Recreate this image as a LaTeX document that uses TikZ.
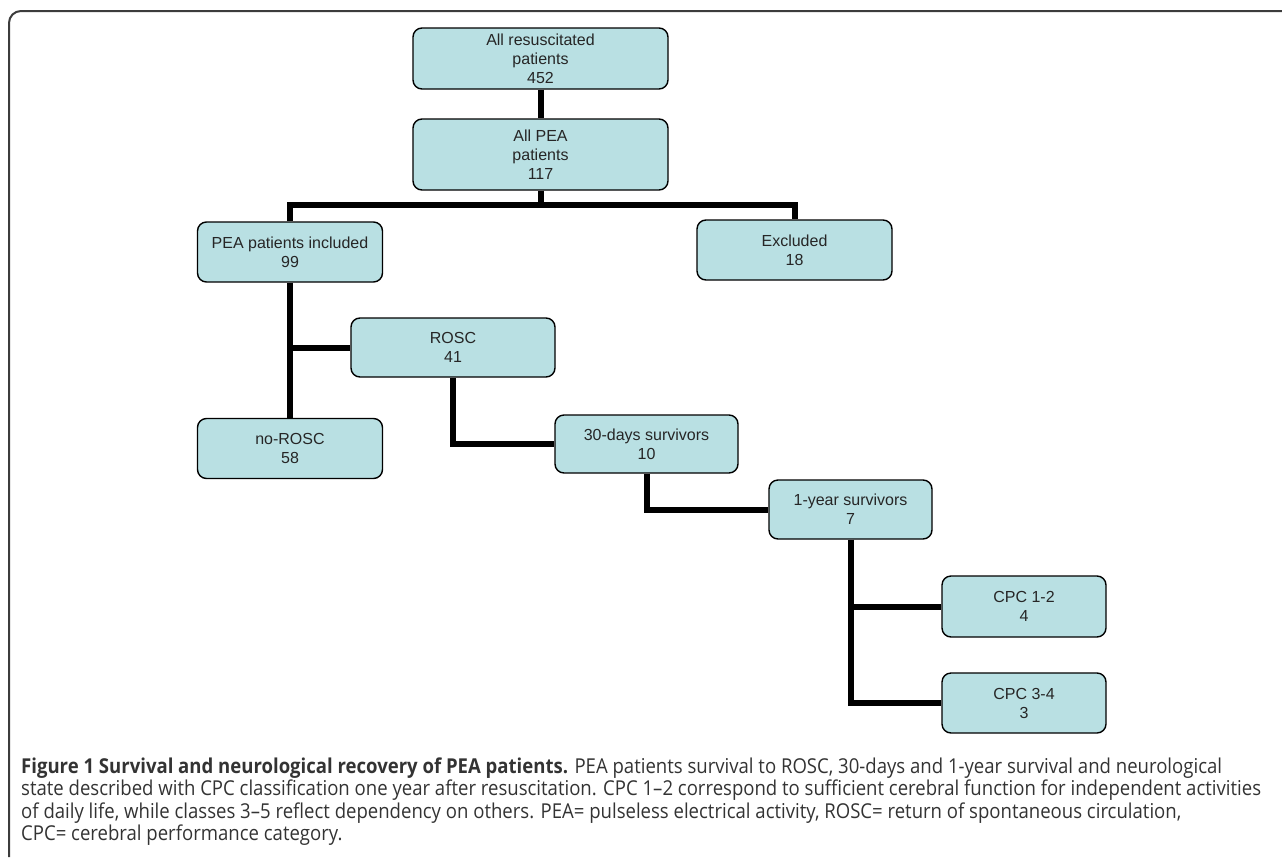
\documentclass[tikz,border=0pt]{standalone}
\usepackage{fontspec}
\setmainfont{Liberation Sans}
\newfontfamily\capfont[FakeStretch=0.905]{Open Sans}
\newfontfamily\capfontb[FakeStretch=0.905]{Open Sans Bold}
\definecolor{boxfill}{RGB}{185,224,227}
\definecolor{frameg}{RGB}{60,60,60}
\begin{document}
\begin{tikzpicture}[x=1pt,y=-1pt,
  box/.style={draw=black,line width=1.4pt,fill=boxfill,rounded corners=9pt,
    align=center,inner sep=0pt,text=black!85,
    font=\fontsize{16}{19}\selectfont},
  link/.style={line width=6pt,draw=black},
  capline/.style={anchor=base west,inner sep=0pt,text=black!80,
    font=\fontsize{20.5}{22}\selectfont\capfont}]
\useasboundingbox (0,0) rectangle (1282,857);
\draw[frameg,line width=2pt,rounded corners=12pt] (1282,11) -- (9,11) -- (9,857);

\node[box,minimum width=255pt,minimum height=61pt] (top) at (540.5,58.5) {All resuscitated\\patients\\452};
\node[box,minimum width=255pt,minimum height=71pt] (pea) at (540.5,154.5) {All PEA\\patients\\117};
\node[box,minimum width=185pt,minimum height=60pt] (inc) at (290,252) {PEA patients included\\99};
\node[box,minimum width=195pt,minimum height=60pt] (exc) at (794.5,250) {Excluded\\18};
\node[box,minimum width=204pt,minimum height=59pt] (rosc) at (453,347.5) {ROSC\\41};
\node[box,minimum width=185pt,minimum height=60pt] (norosc) at (290,448.5) {no-ROSC\\58};
\node[box,minimum width=183pt,minimum height=58pt] (d30) at (646.5,444) {30-days survivors\\10};
\node[box,minimum width=163pt,minimum height=59pt] (y1) at (850.5,509.5) {1-year survivors\\7};
\node[box,minimum width=164pt,minimum height=61pt] (cpca) at (1024,606.5) {CPC 1-2\\4};
\node[box,minimum width=164pt,minimum height=60pt] (cpcb) at (1024,703) {CPC 3-4\\3};

\coordinate (bus) at (540.5,205);
\draw[link] (top.south) -- (pea.north);
\draw[link] (pea.south) -- (bus);
\draw[link] (inc.north) |- (bus) -| (exc.north);
\draw[link] (inc.south) -- (norosc.north);
\draw[link] (inc.south |- rosc.west) -- (rosc.west);
\draw[link] (rosc.south) |- (d30.west);
\draw[link] (d30.south) |- (y1.west);
\draw[link] (y1.south) |- (cpcb.west);
\draw[link] (y1.south |- cpca.west) -- (cpca.west);

\node[capline] (c1) at (21,773) {{\capfontb Figure 1 Survival and neurological recovery of PEA patients.} PEA patients survival to ROSC, 30-days and 1-year survival and neurological};
\node[capline] (c2) at (21,795.5) {state described with CPC classification one year after resuscitation. CPC 1–2 correspond to sufficient cerebral function for independent activities};
\node[capline] (c3) at (21,818) {of daily life, while classes 3–5 reflect dependency on others. PEA= pulseless electrical activity, ROSC= return of spontaneous circulation,};
\node[capline] (c4) at (21,840.5) {CPC= cerebral performance category.};
\end{tikzpicture}
\end{document}
